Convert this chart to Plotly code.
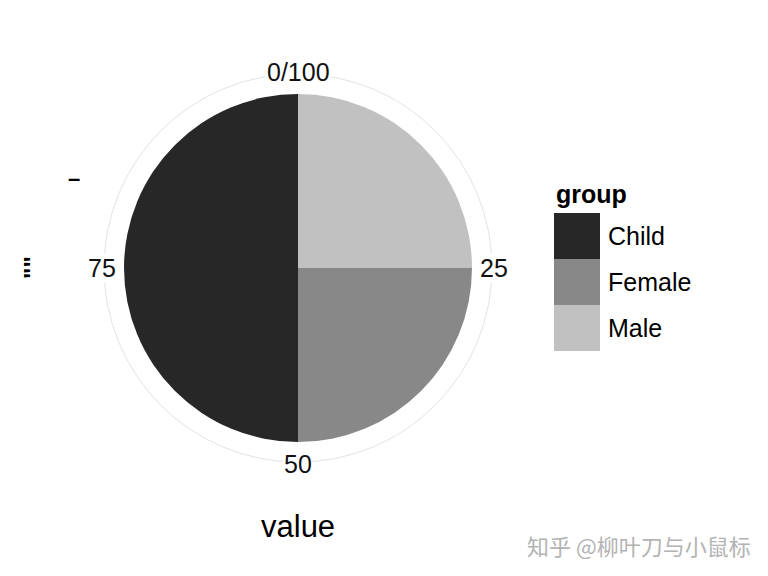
import math
import plotly.graph_objects as go

groups = ["Male", "Female", "Child"]
values = [25, 25, 50]
colors = {"Child": "#272727", "Female": "#888888", "Male": "#c1c1c1"}
legend_order = ["Child", "Female", "Male"]
tick_values = [0, 25, 50, 75]
tick_labels = ["0/100", "25", "50", "75"]

total = sum(values)
scale = 360.0 / total
thetas, widths = [], []
cum = 0
for v in values:
    thetas.append((cum + v / 2) * scale)
    widths.append(v * scale)
    cum += v

fig = go.Figure()
for g, t, w in zip(groups, thetas, widths):
    fig.add_trace(go.Barpolar(
        r=[1], theta=[t], width=[w], base=0, name=g,
        marker=dict(color=colors[g], line=dict(width=0)),
        showlegend=False, hoverinfo="skip",
    ))

FONT = "Liberation Sans, Arial, sans-serif"
cx, cy, R = 298, 268, 194
W, H = 768, 576
fig.update_layout(
    width=W, height=H,
    margin=dict(l=0, r=0, t=0, b=0),
    paper_bgcolor="white",
    font=dict(family=FONT, color="black"),
    polar=dict(
        domain=dict(x=[(cx - R) / W, (cx + R) / W], y=[(H - cy - R) / H, (H - cy + R) / H]),
        bgcolor="white",
        bargap=0,
        hole=0,
        radialaxis=dict(visible=False, range=[0, 1.115], showgrid=False),
        angularaxis=dict(
            rotation=90, direction="clockwise", thetaunit="degrees",
            showticklabels=False,
            showgrid=False, showline=True, linecolor="#e3e3e3", linewidth=1,
            ticks="",
        ),
    ),
)

shapes = []
annotations = []
# angular tick labels placed on the outer circle (ggplot coord_polar style)
RL = 196
for v, lab in zip(tick_values, tick_labels):
    ang = math.radians(90 - v * scale)
    px = cx + RL * math.cos(ang)
    py = cy - RL * math.sin(ang)
    annotations.append(dict(x=px / W, y=1 - py / H, xref="paper", yref="paper", text=lab,
                            showarrow=False, xanchor="center", yanchor="middle",
                            bgcolor="white", borderpad=0,
                            font=dict(size=25, family=FONT, color="#111111")))

# manual legend
lx0, lx1, ly0, step = 554, 600, 213, 46
annotations.append(dict(x=lx0 / W, y=1 - 194 / H, xref="paper", yref="paper", text="<b>group</b>",
                        showarrow=False, xanchor="left", yanchor="middle",
                        font=dict(size=25, family=FONT, color="black")))
for i, g in enumerate(legend_order):
    y0 = ly0 + i * step
    shapes.append(dict(type="rect", xref="paper", yref="paper",
                       x0=lx0 / W, x1=lx1 / W, y0=1 - y0 / H, y1=1 - (y0 + step) / H,
                       fillcolor=colors[g], line=dict(width=0)))
    annotations.append(dict(x=606 / W, y=1 - (y0 + step / 2) / H, xref="paper", yref="paper",
                            text=g, showarrow=False, xanchor="left", yanchor="middle",
                            font=dict(size=25, family=FONT, color="black")))

annotations.append(dict(x=cx / W, y=1 - 526 / H, xref="paper", yref="paper", text="value",
                        showarrow=False, xanchor="center", yanchor="middle",
                        font=dict(size=31, family=FONT, color="black")))
annotations.append(dict(x=74 / W, y=1 - 178 / H, xref="paper", yref="paper", text="<b>–</b>",
                        showarrow=False, xanchor="center", yanchor="middle",
                        font=dict(size=22, family=FONT, color="black")))
annotations.append(dict(x=32 / W, y=1 - 268 / H, xref="paper", yref="paper", text='<b>""</b>',
                        showarrow=False, xanchor="center", yanchor="middle", textangle=-90,
                        font=dict(size=24, family=FONT, color="black")))
annotations.append(dict(x=639 / W, y=1 - 545 / H, xref="paper", yref="paper",
                        text="知乎 @柳叶刀与小鼠标",
                        showarrow=False, xanchor="center", yanchor="middle",
                        font=dict(size=22, family="Noto Sans CJK SC", color="#b3b3b3")))

fig.update_layout(shapes=shapes, annotations=annotations)
fig.write_html("out.html", config={"displayModeBar": False},
               post_script="document.body.style.margin='0';")
